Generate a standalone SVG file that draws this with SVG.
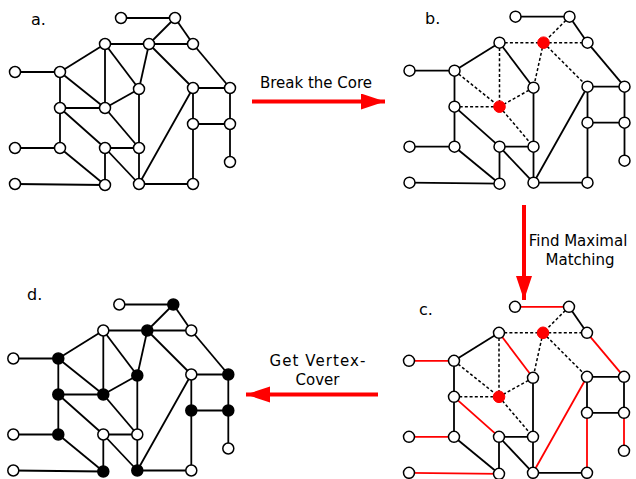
<svg xmlns="http://www.w3.org/2000/svg" xmlns:xlink="http://www.w3.org/1999/xlink" width="636" height="479" viewBox="0 0 636 479">
<style>
.n{fill:#fff;stroke:#000;stroke-width:1.5}
.nk{fill:#000;stroke:#000;stroke-width:1.5}
.nr{fill:#f00;stroke:#f00;stroke-width:1}
.es{stroke:#000;stroke-width:1.8;fill:none}
.ed{stroke:#000;stroke-width:1.5;stroke-dasharray:3 2.2;fill:none}
.er{stroke:#f00;stroke-width:1.8;fill:none}
.lbl{font-family:"DejaVu Sans","Liberation Sans",sans-serif;font-size:16px;fill:#000}
.cap{font-family:"DejaVu Sans","Liberation Sans",sans-serif;font-size:15px;fill:#000;text-anchor:middle}
.arr{stroke:#f00;stroke-width:4;fill:none}
</style>
<defs>
<marker id="ah" markerUnits="userSpaceOnUse" markerWidth="26" markerHeight="18" refX="24" refY="8" orient="auto">
<path d="M0,0 L24,8 L0,16 z" fill="#f00"/>
</marker>
<g id="e-core">
<line x1="175" y1="18" x2="149" y2="44"/>
<line x1="105" y1="44" x2="149" y2="44"/>
<line x1="149" y1="44" x2="193" y2="44"/>
<line x1="149" y1="44" x2="139" y2="89"/>
<line x1="149" y1="44" x2="193" y2="88"/>
<line x1="105" y1="44" x2="105" y2="108"/>
<line x1="60" y1="72" x2="105" y2="108"/>
<line x1="139" y1="89" x2="105" y2="108"/>
<line x1="60" y1="108" x2="105" y2="108"/>
<line x1="105" y1="108" x2="139" y2="148"/>
</g>
<g id="e-match">
<line x1="121" y1="18" x2="175" y2="18"/>
<line x1="105" y1="44" x2="139" y2="89"/>
<line x1="193" y1="44" x2="230" y2="88"/>
<line x1="15" y1="72" x2="60" y2="72"/>
<line x1="60" y1="108" x2="105" y2="148"/>
<line x1="193" y1="88" x2="139" y2="184"/>
<line x1="193" y1="124" x2="193" y2="184"/>
<line x1="230" y1="124" x2="230" y2="162"/>
<line x1="15" y1="148" x2="60" y2="148"/>
<line x1="15" y1="184" x2="105" y2="185"/>
</g>
<g id="e-rest">
<line x1="175" y1="18" x2="193" y2="44"/>
<line x1="105" y1="44" x2="60" y2="72"/>
<line x1="60" y1="72" x2="60" y2="108"/>
<line x1="60" y1="108" x2="60" y2="148"/>
<line x1="139" y1="89" x2="139" y2="148"/>
<line x1="193" y1="88" x2="230" y2="88"/>
<line x1="193" y1="88" x2="193" y2="124"/>
<line x1="230" y1="88" x2="230" y2="124"/>
<line x1="193" y1="124" x2="230" y2="124"/>
<line x1="60" y1="148" x2="105" y2="185"/>
<line x1="105" y1="148" x2="139" y2="148"/>
<line x1="105" y1="148" x2="105" y2="185"/>
<line x1="105" y1="148" x2="139" y2="184"/>
<line x1="139" y1="148" x2="139" y2="184"/>
<line x1="139" y1="184" x2="193" y2="184"/>
</g>
</defs>

<!-- Panel a -->
<g id="panel-a">
<text class="lbl" x="31" y="25">a.</text>
<g id="a-edges" class="es">
<use xlink:href="#e-core"/><use xlink:href="#e-match"/><use xlink:href="#e-rest"/>
</g>
<g id="a-A"><circle class="n" cx="121" cy="18" r="5.5"/></g>
<g id="a-B"><circle class="n" cx="175" cy="18" r="5.5"/></g>
<g id="a-C"><circle class="n" cx="105" cy="44" r="5.5"/></g>
<g id="a-D"><circle class="n" cx="149" cy="44" r="5.5"/></g>
<g id="a-E"><circle class="n" cx="193" cy="44" r="5.5"/></g>
<g id="a-F"><circle class="n" cx="15" cy="72" r="5.5"/></g>
<g id="a-G"><circle class="n" cx="60" cy="72" r="5.5"/></g>
<g id="a-H"><circle class="n" cx="139" cy="89" r="5.5"/></g>
<g id="a-I"><circle class="n" cx="193" cy="88" r="5.5"/></g>
<g id="a-J"><circle class="n" cx="230" cy="88" r="5.5"/></g>
<g id="a-K"><circle class="n" cx="60" cy="108" r="5.5"/></g>
<g id="a-L"><circle class="n" cx="105" cy="108" r="5.5"/></g>
<g id="a-M"><circle class="n" cx="193" cy="124" r="5.5"/></g>
<g id="a-N"><circle class="n" cx="230" cy="124" r="5.5"/></g>
<g id="a-O"><circle class="n" cx="15" cy="148" r="5.5"/></g>
<g id="a-P"><circle class="n" cx="60" cy="148" r="5.5"/></g>
<g id="a-Q"><circle class="n" cx="105" cy="148" r="5.5"/></g>
<g id="a-R"><circle class="n" cx="139" cy="148" r="5.5"/></g>
<g id="a-S"><circle class="n" cx="230" cy="162" r="5.5"/></g>
<g id="a-T"><circle class="n" cx="15" cy="184" r="5.5"/></g>
<g id="a-U"><circle class="n" cx="105" cy="185" r="5.5"/></g>
<g id="a-V"><circle class="n" cx="139" cy="184" r="5.5"/></g>
<g id="a-W"><circle class="n" cx="193" cy="184" r="5.5"/></g>
</g>

<!-- Panel b -->
<text class="lbl" x="425" y="24">b.</text>
<g id="panel-b" transform="translate(394.5,-1.3)">
<g id="b-edges">
<use xlink:href="#e-core" class="ed"/><use xlink:href="#e-match" class="es"/><use xlink:href="#e-rest" class="es"/>
</g>
<g id="b-A"><circle class="n" cx="121" cy="18" r="5.5"/></g>
<g id="b-B"><circle class="n" cx="175" cy="18" r="5.5"/></g>
<g id="b-C"><circle class="n" cx="105" cy="44" r="5.5"/></g>
<g id="b-D"><circle class="nr" cx="149" cy="44" r="5.8"/></g>
<g id="b-E"><circle class="n" cx="193" cy="44" r="5.5"/></g>
<g id="b-F"><circle class="n" cx="15" cy="72" r="5.5"/></g>
<g id="b-G"><circle class="n" cx="60" cy="72" r="5.5"/></g>
<g id="b-H"><circle class="n" cx="139" cy="89" r="5.5"/></g>
<g id="b-I"><circle class="n" cx="193" cy="88" r="5.5"/></g>
<g id="b-J"><circle class="n" cx="230" cy="88" r="5.5"/></g>
<g id="b-K"><circle class="n" cx="60" cy="108" r="5.5"/></g>
<g id="b-L"><circle class="nr" cx="105" cy="108" r="5.8"/></g>
<g id="b-M"><circle class="n" cx="193" cy="124" r="5.5"/></g>
<g id="b-N"><circle class="n" cx="230" cy="124" r="5.5"/></g>
<g id="b-O"><circle class="n" cx="15" cy="148" r="5.5"/></g>
<g id="b-P"><circle class="n" cx="60" cy="148" r="5.5"/></g>
<g id="b-Q"><circle class="n" cx="105" cy="148" r="5.5"/></g>
<g id="b-R"><circle class="n" cx="139" cy="148" r="5.5"/></g>
<g id="b-S"><circle class="n" cx="230" cy="162" r="5.5"/></g>
<g id="b-T"><circle class="n" cx="15" cy="184" r="5.5"/></g>
<g id="b-U"><circle class="n" cx="105" cy="185" r="5.5"/></g>
<g id="b-V"><circle class="n" cx="139" cy="184" r="5.5"/></g>
<g id="b-W"><circle class="n" cx="193" cy="184" r="5.5"/></g>
</g>

<!-- Panel c -->
<text class="lbl" x="419" y="315">c.</text>
<g id="panel-c" transform="translate(394,288.8)">
<g id="c-edges">
<use xlink:href="#e-core" class="ed"/><use xlink:href="#e-match" class="er"/><use xlink:href="#e-rest" class="es"/>
</g>
<g id="c-A"><circle class="n" cx="121" cy="18" r="5.5"/></g>
<g id="c-B"><circle class="n" cx="175" cy="18" r="5.5"/></g>
<g id="c-C"><circle class="n" cx="105" cy="44" r="5.5"/></g>
<g id="c-D"><circle class="nr" cx="149" cy="44" r="5.8"/></g>
<g id="c-E"><circle class="n" cx="193" cy="44" r="5.5"/></g>
<g id="c-F"><circle class="n" cx="15" cy="72" r="5.5"/></g>
<g id="c-G"><circle class="n" cx="60" cy="72" r="5.5"/></g>
<g id="c-H"><circle class="n" cx="139" cy="89" r="5.5"/></g>
<g id="c-I"><circle class="n" cx="193" cy="88" r="5.5"/></g>
<g id="c-J"><circle class="n" cx="230" cy="88" r="5.5"/></g>
<g id="c-K"><circle class="n" cx="60" cy="108" r="5.5"/></g>
<g id="c-L"><circle class="nr" cx="105" cy="108" r="5.8"/></g>
<g id="c-M"><circle class="n" cx="193" cy="124" r="5.5"/></g>
<g id="c-N"><circle class="n" cx="230" cy="124" r="5.5"/></g>
<g id="c-O"><circle class="n" cx="15" cy="148" r="5.5"/></g>
<g id="c-P"><circle class="n" cx="60" cy="148" r="5.5"/></g>
<g id="c-Q"><circle class="n" cx="105" cy="148" r="5.5"/></g>
<g id="c-R"><circle class="n" cx="139" cy="148" r="5.5"/></g>
<g id="c-S"><circle class="n" cx="230" cy="162" r="5.5"/></g>
<g id="c-T"><circle class="n" cx="15" cy="184" r="5.5"/></g>
<g id="c-U"><circle class="n" cx="105" cy="185" r="5.5"/></g>
<g id="c-V"><circle class="n" cx="139" cy="184" r="5.5"/></g>
<g id="c-W"><circle class="n" cx="193" cy="184" r="5.5"/></g>
</g>

<!-- Panel d -->
<text class="lbl" x="27" y="300">d.</text>
<g id="panel-d" transform="translate(-1.7,286.5)">
<g id="d-edges" class="es">
<use xlink:href="#e-core"/><use xlink:href="#e-match"/><use xlink:href="#e-rest"/>
</g>
<g id="d-A"><circle class="n" cx="121" cy="18" r="5.5"/></g>
<g id="d-B"><circle class="nk" cx="175" cy="18" r="5.5"/></g>
<g id="d-C"><circle class="n" cx="105" cy="44" r="5.5"/></g>
<g id="d-D"><circle class="nk" cx="149" cy="44" r="5.5"/></g>
<g id="d-E"><circle class="n" cx="193" cy="44" r="5.5"/></g>
<g id="d-F"><circle class="n" cx="15" cy="72" r="5.5"/></g>
<g id="d-G"><circle class="nk" cx="60" cy="72" r="5.5"/></g>
<g id="d-H"><circle class="nk" cx="139" cy="89" r="5.5"/></g>
<g id="d-I"><circle class="n" cx="193" cy="88" r="5.5"/></g>
<g id="d-J"><circle class="nk" cx="230" cy="88" r="5.5"/></g>
<g id="d-K"><circle class="nk" cx="60" cy="108" r="5.5"/></g>
<g id="d-L"><circle class="nk" cx="105" cy="108" r="5.5"/></g>
<g id="d-M"><circle class="nk" cx="193" cy="124" r="5.5"/></g>
<g id="d-N"><circle class="nk" cx="230" cy="124" r="5.5"/></g>
<g id="d-O"><circle class="n" cx="15" cy="148" r="5.5"/></g>
<g id="d-P"><circle class="nk" cx="60" cy="148" r="5.5"/></g>
<g id="d-Q"><circle class="n" cx="105" cy="148" r="5.5"/></g>
<g id="d-R"><circle class="n" cx="139" cy="148" r="5.5"/></g>
<g id="d-S"><circle class="n" cx="230" cy="162" r="5.5"/></g>
<g id="d-T"><circle class="n" cx="15" cy="184" r="5.5"/></g>
<g id="d-U"><circle class="nk" cx="105" cy="185" r="5.5"/></g>
<g id="d-V"><circle class="nk" cx="139" cy="184" r="5.5"/></g>
<g id="d-W"><circle class="n" cx="193" cy="184" r="5.5"/></g>
</g>

<!-- Transition arrows -->
<g id="arrows">
<line class="arr" x1="252" y1="101.5" x2="385" y2="101.5" marker-end="url(#ah)"/>
<line class="arr" x1="524" y1="205" x2="524" y2="300" marker-end="url(#ah)"/>
<line class="arr" x1="378" y1="394.5" x2="246" y2="394.5" marker-end="url(#ah)"/>
</g>
<g id="arrow-labels">
<text class="cap" x="316" y="88">Break the Core</text>
<text class="cap" x="578" y="246">Find Maximal</text>
<text class="cap" x="580" y="265">Matching</text>
<text class="cap" x="317.5" y="366" textLength="96">Get Vertex-</text>
<text class="cap" x="317.5" y="385">Cover</text>
</g>
</svg>
